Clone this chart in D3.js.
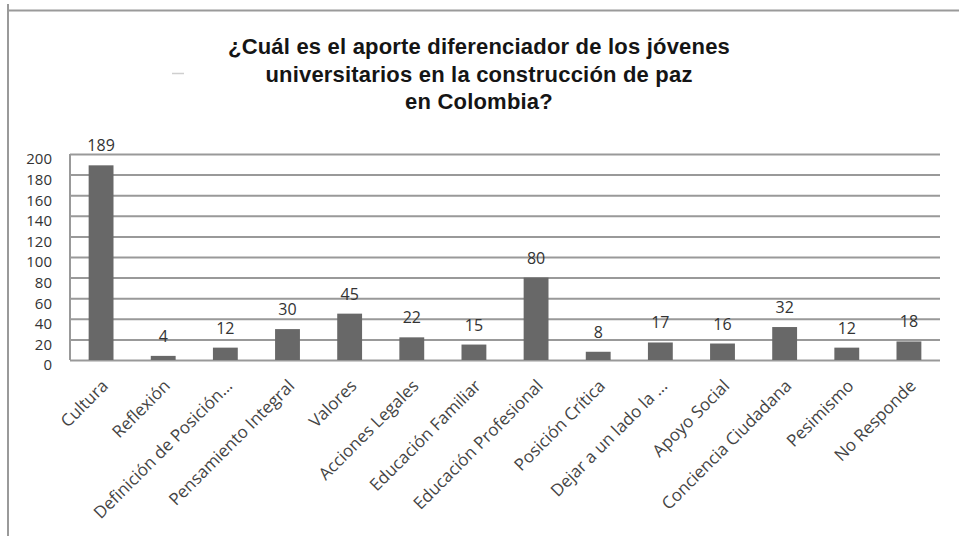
<!DOCTYPE html>
<html>
<head>
<meta charset="utf-8">
<script src="https://cdn.jsdelivr.net/npm/d3@7/dist/d3.min.js"></script>
<style>
html,body{margin:0;padding:0;background:#fff;}
svg{display:block;}
</style>
</head>
<body>
<svg id="chart" width="959" height="536"></svg>
<script>
const titleLines = ["¿Cuál es el aporte diferenciador de los jóvenes", "universitarios en la construcción de paz", "en Colombia?"];
const categories = ["Cultura", "Reflexión", "Definición de Posición…", "Pensamiento Integral", "Valores", "Acciones Legales", "Educación  Familiar", "Educación Profesional", "Posición Crítica", "Dejar a un lado la ...", "Apoyo Social", "Conciencia  Ciudadana", "Pesimismo", "No Responde"];
const values = [189, 4, 12, 30, 45, 22, 15, 80, 8, 17, 16, 32, 12, 18];
const yTicks = [0, 20, 40, 60, 80, 100, 120, 140, 160, 180, 200];

const svg = d3.select("#chart");
const W = 959, H = 536;
const plot = {left: 70, right: 940, top: 154, bottom: 360};
const labelFont = "'Open Sans', Lato, sans-serif";

// frame
svg.append("line").attr("x1", 8).attr("x2", 8).attr("y1", 4).attr("y2", H)
  .attr("stroke", "#9a9a9a").attr("stroke-width", 2);
svg.append("line").attr("x1", 8).attr("x2", W).attr("y1", 10.5).attr("y2", 10.5)
  .attr("stroke", "#9a9a9a").attr("stroke-width", 2);

// title
const title = svg.append("g").attr("font-family", "'Liberation Sans', Arial, sans-serif")
  .attr("font-weight", "bold").attr("font-size", 22).attr("fill", "#151515").attr("text-anchor", "middle");
title.selectAll("text").data(titleLines).join("text")
  .attr("x", 479).attr("y", (d, i) => 54 + i * 27.5).text(d => d);
// tighten letter spacing so the first line spans ~502px like the reference
const t0 = title.select("text");
const w0 = t0.node().getComputedTextLength();
const ls = (502 - w0) / (titleLines[0].length);
title.attr("letter-spacing", ls);

// small artifact dash
svg.append("line").attr("x1", 172).attr("x2", 184).attr("y1", 73.5).attr("y2", 73.5)
  .attr("stroke", "#cfcfcf").attr("stroke-width", 1.5);

const x = d3.scaleBand().domain(categories).range([plot.left, plot.right]).paddingInner(0.6).paddingOuter(0.3);
const y = d3.scaleLinear().domain([0, 200]).range([plot.bottom, plot.top]);

// gridlines
const grid = svg.append("g").attr("class", "grid")
  .attr("transform", `translate(${plot.left},0)`)
  .call(d3.axisLeft(y).tickValues(yTicks).tickSize(-(plot.right - plot.left)).tickFormat(""));
grid.select(".domain").remove();
grid.selectAll("line").attr("stroke", "#999").attr("stroke-width", 2);

// left border of plot
svg.append("line").attr("x1", plot.left).attr("x2", plot.left).attr("y1", plot.top).attr("y2", plot.bottom)
  .attr("stroke", "#999").attr("stroke-width", 2);

// y labels
const yAxis = svg.append("g").attr("transform", `translate(52,0)`)
  .call(d3.axisLeft(y).tickValues(yTicks).tickSize(0).tickPadding(0));
yAxis.select(".domain").remove();
yAxis.selectAll("text").attr("font-family", labelFont).attr("font-size", 15)
  .attr("fill", "#333").attr("dy", "0.66em").attr("x", 0);

// bars
svg.append("g").selectAll("rect").data(values).join("rect")
  .attr("x", (d, i) => x(categories[i]))
  .attr("width", x.bandwidth())
  .attr("y", d => y(d))
  .attr("height", d => y(0) - y(d))
  .attr("fill", "#686868");

// value labels
svg.append("g").selectAll("text").data(values).join("text")
  .attr("x", (d, i) => x(categories[i]) + x.bandwidth() / 2)
  .attr("y", d => y(d) - 14)
  .attr("text-anchor", "middle")
  .attr("font-family", labelFont).attr("font-size", 16).attr("fill", "#333")
  .text(d => d);

// x labels
const xAxis = svg.append("g").attr("transform", `translate(0,${plot.bottom})`)
  .call(d3.axisBottom(x).tickSize(0).tickPadding(0));
xAxis.select(".domain").remove();
xAxis.selectAll("text")
  .attr("font-family", labelFont).attr("font-size", 17).attr("fill", "#444")
  .attr("text-anchor", "end")
  .attr("dy", 0).attr("y", 0)
  .attr("transform", "translate(8,27) rotate(-45)");
</script>
</body>
</html>
